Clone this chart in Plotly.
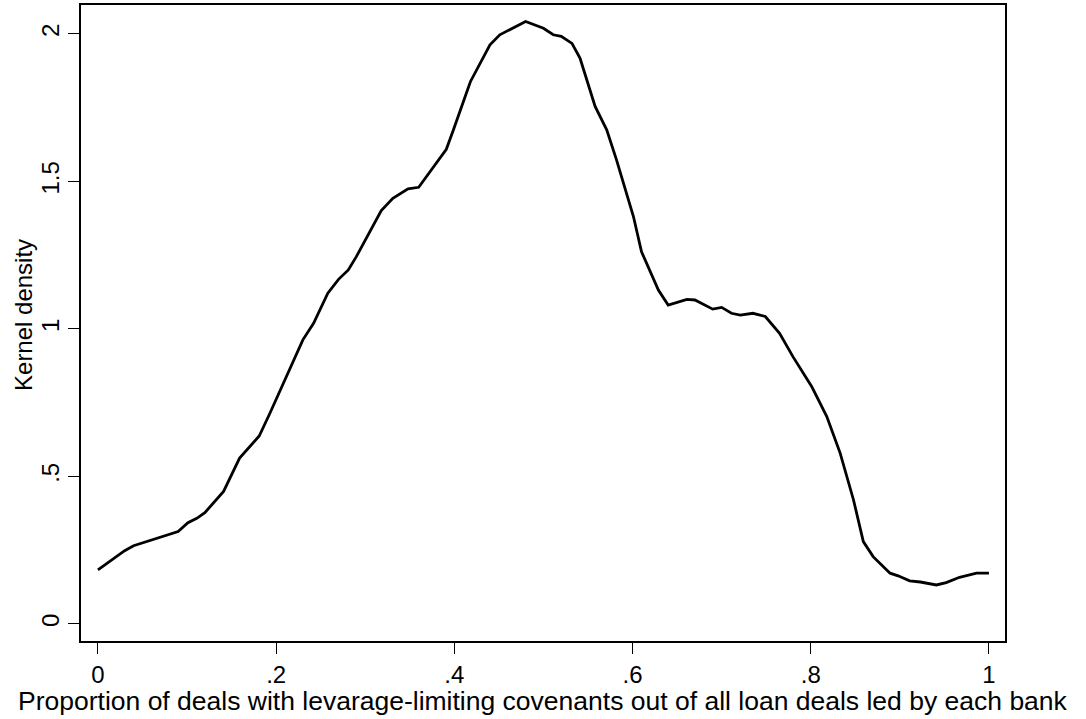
import plotly.graph_objects as go

# Kernel density curve values
x_vals = [0.000, 0.030, 0.040, 0.090, 0.101, 0.111, 0.120, 0.141, 0.159, 0.181, 0.193,
          0.210, 0.221, 0.230, 0.242, 0.258, 0.270, 0.281, 0.290, 0.302, 0.318, 0.331,
          0.348, 0.360, 0.376, 0.391, 0.399, 0.418, 0.440, 0.451, 0.480, 0.500, 0.511,
          0.520, 0.532, 0.541, 0.558, 0.571, 0.582, 0.595, 0.601, 0.610, 0.629, 0.640,
          0.661, 0.670, 0.690, 0.700, 0.711, 0.721, 0.735, 0.749, 0.765, 0.780, 0.801,
          0.818, 0.833, 0.848, 0.859, 0.870, 0.889, 0.898, 0.911, 0.923, 0.941, 0.952,
          0.967, 0.986, 1.000]
density = [0.183, 0.248, 0.265, 0.313, 0.343, 0.358, 0.377, 0.449, 0.562, 0.637, 0.714,
           0.827, 0.906, 0.963, 1.019, 1.121, 1.168, 1.200, 1.245, 1.313, 1.401, 1.443,
           1.475, 1.480, 1.545, 1.609, 1.675, 1.838, 1.963, 1.997, 2.042, 2.019, 1.997,
           1.992, 1.968, 1.918, 1.754, 1.675, 1.573, 1.437, 1.381, 1.262, 1.132, 1.081,
           1.100, 1.098, 1.067, 1.073, 1.053, 1.047, 1.053, 1.042, 0.985, 0.906, 0.805,
           0.703, 0.579, 0.420, 0.279, 0.228, 0.172, 0.163, 0.146, 0.142, 0.132, 0.140,
           0.158, 0.172, 0.172]

x_ticks = [0, 0.2, 0.4, 0.6, 0.8, 1.0]
x_tick_labels = ["0", ".2", ".4", ".6", ".8", "1"]
y_ticks = [0, 0.5, 1.0, 1.5, 2.0]
y_tick_labels = ["0", ".5", "1", "1.5", "2"]

x_title = "Proportion of deals with levarage-limiting covenants out of all loan deals led by each bank"
y_title = "Kernel density"

FONT = "Liberation Sans, Arial, Helvetica, sans-serif"

fig = go.Figure()
fig.add_trace(go.Scatter(
    x=x_vals, y=density, mode="lines",
    line=dict(color="black", width=2.8),
    showlegend=False, hoverinfo="skip",
))

fig.update_layout(
    width=1086, height=719,
    margin=dict(l=81, r=81, t=5, b=78, autoexpand=False),
    paper_bgcolor="white", plot_bgcolor="white",
    font=dict(family=FONT, color="black", size=24),
    showlegend=False,
)

fig.update_xaxes(
    range=[-0.019, 1.018],
    tickmode="array", tickvals=x_ticks, ticktext=x_tick_labels,
    ticks="outside", ticklen=11, tickwidth=1.2, tickcolor="black",
    ticklabelstandoff=0,
    showline=True, linecolor="black", linewidth=1.5, mirror=True,
    showgrid=False, zeroline=False,
    tickfont=dict(family=FONT, size=24, color="black"),
)

fig.update_yaxes(
    range=[-0.058, 2.098],
    tickmode="array", tickvals=y_ticks, ticktext=y_tick_labels,
    ticks="outside", ticklen=11, tickwidth=1.2, tickcolor="black",
    tickangle=-90,
    showline=True, linecolor="black", linewidth=1.5, mirror=True,
    showgrid=False, zeroline=False,
    tickfont=dict(family=FONT, size=24, color="black"),
)

# Axis titles placed as annotations to match the reference positions
fig.add_annotation(
    text=x_title, xref="paper", yref="paper",
    x=0.5, y=-0.0943, xanchor="center", yanchor="middle",
    showarrow=False, borderpad=0,
    font=dict(family=FONT, size=26.5, color="black"),
)
fig.add_annotation(
    text=y_title, xref="paper", yref="paper",
    x=-0.0617, y=0.5126, xanchor="center", yanchor="middle",
    textangle=-90, showarrow=False, font=dict(family=FONT, size=24, color="black"),
)

fig.write_html("out.html", config={"displayModeBar": False},
               post_script="document.body.style.margin='0';")
